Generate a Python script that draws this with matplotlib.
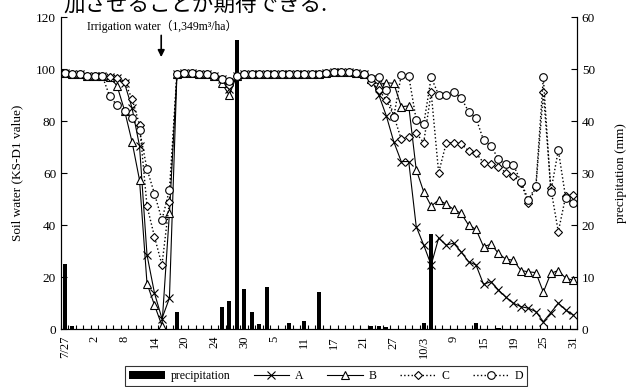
import numpy as np
import matplotlib.pyplot as plt
from matplotlib.patches import Patch
from matplotlib.lines import Line2D

plt.rcParams['font.family'] = ['Liberation Serif', 'Noto Sans CJK JP']

tick_labels = ['7/27', '2', '8', '14', '20', '24', '30', '5', '11', '17',
               '21', '27', '10/3', '9', '15', '19', '25', '31']

# precipitation (mm), one value per measurement day
precip = [12.5, 0.5, 0, 0, 0, 0, 0, 0, 0, 0,
          0, 0, 0, 0, 0, 3.3, 0, 0, 0, 0,
          0, 4.3, 5.3, 55.5, 7.6, 3.2, 1.0, 8.0, 0, 0,
          1.1, 0, 1.5, 0, 7.2, 0, 0, 0, 0, 0,
          0, 0.6, 0.5, 0.4, 0, 0, 0, 0, 1.2, 18.3,
          0, 0, 0, 0, 0, 1.1, 0, 0, 0.2, 0,
          0, 0, 0, 0, 0, 0, 0, 0, 0]

soil_a = [98.5, 98.0, 98.0, 97.5, 97.5, 97.5, 97.0, 96.5, 94.5, 85.0,
          70.4, 28.5, 13.8, 4.0, 11.9, 98.0, 98.5, 98.5, 98.0, 98.0,
          97.5, 96.0, 92.5, 97.5, 98.0, 98.0, 98.0, 98.0, 98.0, 98.0,
          98.0, 98.0, 98.0, 98.0, 98.0, 98.5, 99.0, 99.0, 99.0, 98.5,
          98.0, 96.0, 90.0, 82.0, 72.0, 64.4, 64.4, 39.4, 32.3, 24.6,
          35.0, 32.3, 33.0, 29.7, 25.9, 24.6, 17.2, 18.2, 15.0, 12.2,
          9.9, 8.6, 8.0, 6.7, 2.8, 6.3, 9.9, 7.3, 5.4]
soil_b = [98.5, 98.0, 98.0, 97.5, 97.5, 97.5, 97.0, 93.5, 84.0, 72.0,
          57.3, 17.5, 9.2, 1.3, 44.6, 98.0, 98.5, 98.5, 98.0, 98.0,
          97.5, 94.5, 90.0, 97.5, 98.0, 98.0, 98.0, 98.0, 98.0, 98.0,
          98.0, 98.0, 98.0, 98.0, 98.0, 98.5, 99.0, 99.0, 99.0, 98.5,
          98.0, 96.0, 94.0, 94.7, 94.5, 85.5, 85.8, 61.3, 52.8, 47.3,
          49.6, 48.1, 46.0, 44.5, 40.0, 38.3, 31.7, 32.6, 29.1, 26.8,
          26.5, 22.5, 22.0, 21.7, 14.2, 21.4, 22.5, 19.5, 18.8]
soil_c = [98.5, 98.0, 98.0, 97.5, 97.5, 97.5, 97.0, 96.5, 95.0, 88.6,
          78.5, 47.3, 35.5, 24.6, 49.0, 98.0, 98.5, 98.5, 98.0, 98.0,
          97.5, 96.0, 94.0, 97.5, 98.0, 98.0, 98.0, 98.0, 98.0, 98.0,
          98.0, 98.0, 98.0, 98.0, 98.0, 98.5, 99.0, 99.0, 99.0, 98.5,
          98.0, 95.0, 92.0, 88.0, 82.0, 73.0, 74.0, 75.3, 71.7, 91.0,
          60.1, 71.4, 71.7, 71.2, 68.6, 67.6, 64.0, 63.3, 62.4, 60.1,
          58.8, 56.3, 48.6, 54.5, 91.0, 54.1, 37.4, 51.2, 51.5]
soil_d = [98.5, 98.0, 98.0, 97.5, 97.5, 97.5, 89.6, 86.0, 84.0, 81.0,
          76.5, 61.5, 52.0, 42.0, 53.5, 98.0, 98.5, 98.5, 98.0, 98.0,
          97.5, 96.0, 95.5, 97.5, 98.0, 98.0, 98.0, 98.0, 98.0, 98.0,
          98.0, 98.0, 98.0, 98.0, 98.0, 98.5, 99.0, 99.0, 99.0, 98.5,
          98.0, 96.4, 96.8, 92.0, 81.7, 97.7, 97.3, 80.4, 78.7, 96.8,
          90.0, 90.0, 91.0, 89.0, 83.6, 81.0, 72.7, 70.4, 65.3, 63.3,
          63.1, 56.7, 49.6, 55.0, 96.8, 52.8, 68.8, 50.2, 48.6]

n = len(precip)
x = np.arange(n)

fig = plt.figure(figsize=(6.31, 3.87), dpi=100)
ax = fig.add_axes([61/631, 1-329/387, 516/631, 312/387])
ax2 = ax.twinx()

ax2.bar(x, precip, width=0.55, color='black')
ax2.set_ylim(0, 60)
ax2.set_yticks(range(0, 61, 10))

ax.set_zorder(ax2.get_zorder()+1)
ax.patch.set_visible(False)

mk = dict(markerfacecolor='white', markeredgecolor='black', markeredgewidth=0.8)
ax.plot(x, soil_a, '-', color='black', lw=0.8, marker='x', ms=6, markeredgewidth=0.8, markeredgecolor='black')
ax.plot(x, soil_b, '-', color='black', lw=0.8, marker='^', ms=6, **mk)
ax.plot(x, soil_c, ':', color='black', lw=1.0, marker='D', ms=4.5, **mk)
ax.plot(x, soil_d, ':', color='black', lw=1.0, marker='o', ms=5.5, **mk)

ax.set_xlim(-0.5, n-0.5)
ax.set_ylim(0, 120)
ax.set_yticks(range(0, 121, 20))
ax.set_xticks(x[::4])
ax.set_xticklabels(tick_labels, rotation=90)
ax.set_xticks(np.arange(-0.5, n, 1), minor=True)
ax.tick_params(axis='x', which='major', length=0, pad=5, labelsize=9)
ax.tick_params(axis='x', which='minor', direction='in', length=3, width=0.8)
ax.tick_params(axis='y', direction='in', length=4, labelsize=9.5)
ax2.tick_params(axis='y', direction='in', length=4, labelsize=9.5)

for a in (ax, ax2):
    a.spines['top'].set_visible(False)
ax.set_ylabel('Soil water (KS-D1 value)', fontsize=9.5, labelpad=9)
ax2.set_ylabel('precipitation (mm)', fontsize=9.5, labelpad=14)

ax.annotate('', xy=(12.9, 103.5), xytext=(12.9, 114),
            arrowprops=dict(arrowstyle='-|>', color='black', lw=1.2, mutation_scale=10))
ax.text(13.0, 116.5, 'Irrigation water（1,349m³/ha）', fontsize=8.5, ha='center', va='center')

fig.text(63/631, 1-5/387, '加させることが期待できる.', fontsize=15.5,
         family=['Noto Sans CJK JP'], ha='left', va='center')

handles = [Patch(facecolor='black'),
           Line2D([], [], color='black', lw=0.8, marker='x', ms=6, markeredgewidth=0.8),
           Line2D([], [], color='black', lw=0.8, marker='^', ms=6, **mk),
           Line2D([], [], color='black', ls=':', lw=1.0, marker='D', ms=4.5, **mk),
           Line2D([], [], color='black', ls=':', lw=1.0, marker='o', ms=5.5, **mk)]
leg = fig.legend(handles, ['precipitation', 'A', 'B', 'C', 'D'], ncol=5,
                 loc='upper center', bbox_to_anchor=(326/631, 1-366/387),
                 borderaxespad=0, fontsize=8.5, frameon=True, fancybox=False,
                 edgecolor='black', handlelength=3.0, columnspacing=2.0,
                 handletextpad=0.5, borderpad=0.35)
leg.get_frame().set_linewidth(0.8)

fig.savefig('out.png', dpi=100)
